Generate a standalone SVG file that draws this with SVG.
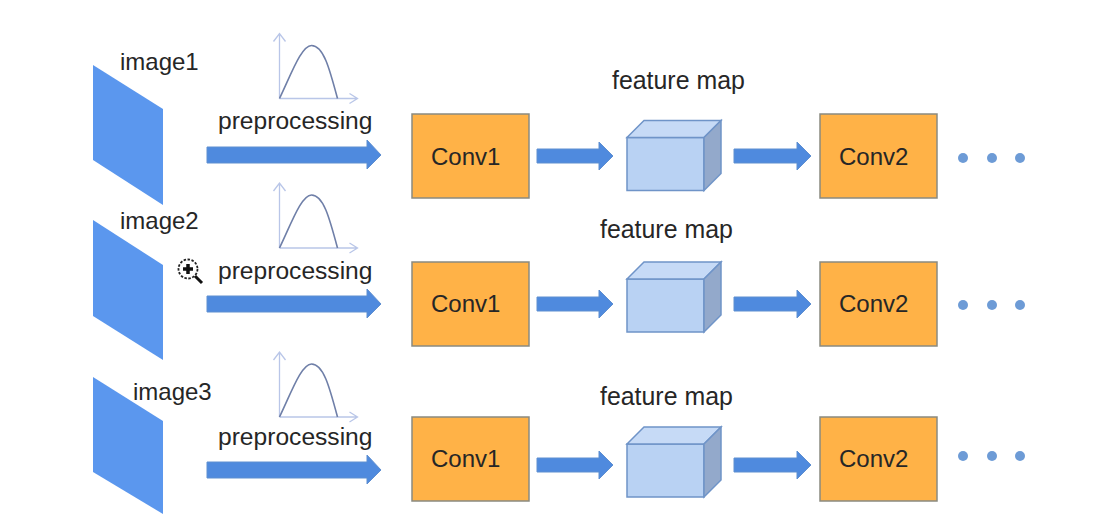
<svg xmlns="http://www.w3.org/2000/svg" width="1106" height="514" viewBox="0 0 1106 514">
<style>
text{font-family:"Liberation Sans",Arial,sans-serif;font-size:24px;fill:#262626}
.p{font-size:24.600px}
.fm{font-size:24.900px}
.img{fill:#5b97ee}
.arr{fill:#4f8ade;stroke:#5f8fd0;stroke-width:1}
.conv{fill:#ffb247;stroke:#8a8a80;stroke-width:1.500}
.f{fill:#b9d2f3;stroke:#6f94c8;stroke-width:1.500}
.t{fill:#c6daf6;stroke:#6f94c8;stroke-width:1.500}
.s{fill:#93a9cb;stroke:#6f94c8;stroke-width:1.500}
.ax{fill:none;stroke:#b9c6e8;stroke-width:1.300}
.cv{fill:none;stroke:#6f7fa8;stroke-width:1.600}
.dot{fill:#6d9bd6}
</style>
<defs>
<g id="curve"><path class="ax" d="M0 0V-65M-6-57L0-65L6-57M0 0H78M70-5L78 0L70 5"/><path class="cv" d="M0 0C12-25 22-53 32-53C44-53 50-30 58 0"/></g>
<g id="cube"><path class="f" d="M0 0H77V53H0Z"/><path class="t" d="M0 0L17-17H94L77 0Z"/><path class="s" d="M77 0L94-17V36L77 53Z"/></g>
</defs>
<rect width="1106" height="514" fill="#fff"/>
<g id="image1"><path class="img" d="M93 65L163 109V205L93 160Z"/><text x="120" y="70">image1</text></g>
<g id="image2"><path class="img" d="M93 220L163 265V360L93 316Z"/><text x="120" y="229">image2</text></g>
<g id="image3"><path class="img" d="M93 377L163 421V514L93 472Z"/><text x="133" y="400">image3</text></g>
<g id="preprocessing1"><use href="#curve" x="279.500" y="98.500"/><text class="p" x="218" y="129">preprocessing</text></g>
<g id="preprocessing2"><use href="#curve" x="279.500" y="248"/><text class="p" x="218" y="279">preprocessing</text></g>
<g id="preprocessing3"><use href="#curve" x="279.500" y="417"/><text class="p" x="218" y="445">preprocessing</text></g>
<g id="conv1-1"><rect class="conv" x="412" y="114" width="117" height="84"/><text x="431" y="165">Conv1</text></g>
<g id="conv1-2"><rect class="conv" x="412" y="262" width="117" height="84"/><text x="431" y="312">Conv1</text></g>
<g id="conv1-3"><rect class="conv" x="412" y="417" width="117" height="84"/><text x="431" y="467">Conv1</text></g>
<g id="feature1"><use href="#cube" x="627" y="137.500"/><text class="fm" x="612" y="89">feature map</text></g>
<g id="feature2"><use href="#cube" x="627" y="279"/><text class="fm" x="600" y="238">feature map</text></g>
<g id="feature3"><use href="#cube" x="627" y="444"/><text class="fm" x="600" y="405">feature map</text></g>
<g id="conv2-1"><rect class="conv" x="820" y="114" width="117" height="84"/><text x="839" y="165">Conv2</text></g>
<g id="conv2-2"><rect class="conv" x="820" y="262" width="117" height="84"/><text x="839" y="312">Conv2</text></g>
<g id="conv2-3"><rect class="conv" x="820" y="417" width="117" height="84"/><text x="839" y="467">Conv2</text></g>
<g id="connectors">
<path class="arr" d="M207 147H367V140L381 155L367 169V163H207Z"/>
<path class="arr" d="M207 296H367V289L381 304L367 318V312H207Z"/>
<path class="arr" d="M207 462H367V455L381 470L367 484V478H207Z"/>
<g id="a1"><path class="arr" d="M537 149H599V142L613 156L599 170V163H537Z"/><path class="arr" d="M734 149H797V142L811 156L797 170V163H734Z"/></g>
<g id="a2"><path class="arr" d="M537 297H599V290L613 304L599 318V311H537Z"/><path class="arr" d="M734 297H797V290L811 304L797 318V311H734Z"/></g>
<g id="a3"><path class="arr" d="M537 458H599V451L613 465L599 479V472H537Z"/><path class="arr" d="M734 458H797V451L811 465L797 479V472H734Z"/></g>
</g>
<g id="dots1"><circle class="dot" cx="963" cy="158" r="5"/><circle class="dot" cx="992" cy="158" r="5"/><circle class="dot" cx="1020" cy="158" r="5"/></g>
<g id="dots2"><circle class="dot" cx="963" cy="305" r="5"/><circle class="dot" cx="992" cy="305" r="5"/><circle class="dot" cx="1020" cy="305" r="5"/></g>
<g id="dots3"><circle class="dot" cx="963" cy="456" r="5"/><circle class="dot" cx="992" cy="456" r="5"/><circle class="dot" cx="1020" cy="456" r="5"/></g>
<g id="cursor"><circle cx="188" cy="269" r="9.500" fill="#fff" stroke="#222" stroke-width="1.800" stroke-dasharray="2.500 1.500"/><path d="M183 269H193M188 264V274" stroke="#111" stroke-width="3.500"/><path d="M195 276L202 283" stroke="#111" stroke-width="3"/></g>
</svg>
